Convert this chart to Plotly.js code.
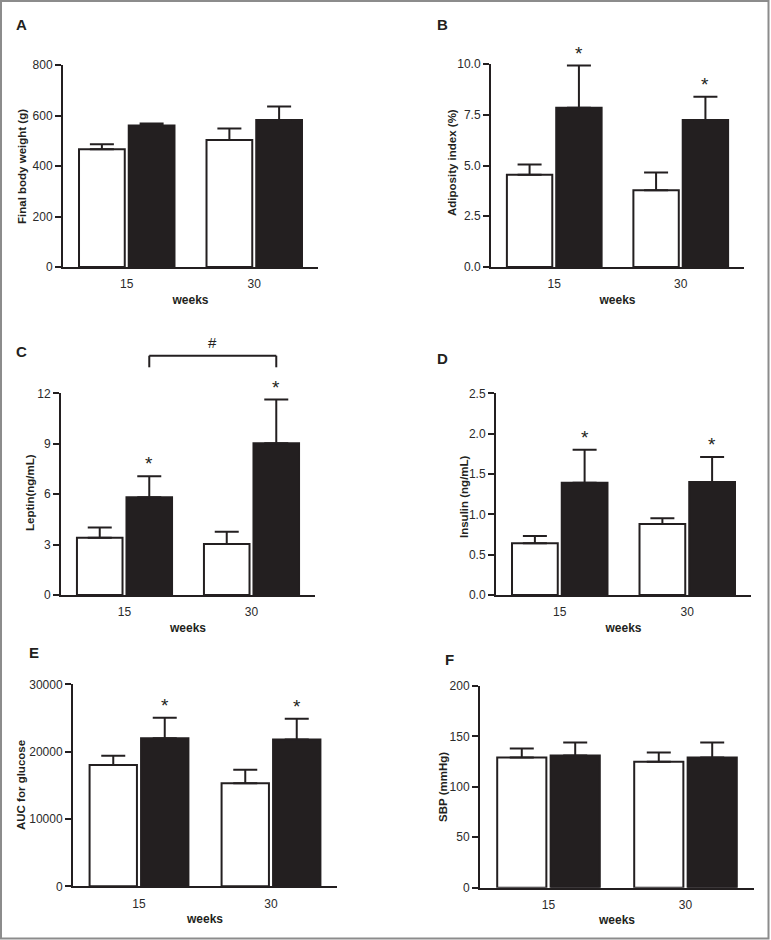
<!DOCTYPE html>
<html>
<head>
<meta charset="utf-8">
<script src="https://cdn.plot.ly/plotly-3.0.1.min.js"></script>
<style>
  html, body { margin: 0; padding: 0; background: #ffffff; }
  #chart { width: 771px; height: 940px; }
</style>
</head>
<body>
<div id="chart"></div>
<script>
// ---------------- data ----------------
const weeks = ['15', '30'];
const groupNames = ['Control', 'Obese'];

const bodyWeightCtrl = [466, 503];
const bodyWeightCtrlErr = [20, 46];
const bodyWeightObese = [560, 582];
const bodyWeightObeseErr = [8, 54];
const bodyWeightStars = ['', ''];

const adiposityCtrl = [4.55, 3.78];
const adiposityCtrlErr = [0.5, 0.87];
const adiposityObese = [7.85, 7.24];
const adiposityObeseErr = [2.07, 1.15];
const adiposityStars = ['*', '*'];

const leptinCtrl = [3.41, 3.03];
const leptinCtrlErr = [0.6, 0.74];
const leptinObese = [5.81, 9.03];
const leptinObeseErr = [1.25, 2.6];
const leptinStars = ['*', '*'];
const leptinBracketLabel = '#';

const insulinCtrl = [0.64, 0.88];
const insulinCtrlErr = [0.09, 0.07];
const insulinObese = [1.39, 1.40];
const insulinObeseErr = [0.41, 0.31];
const insulinStars = ['*', '*'];

const aucCtrl = [18000, 15300];
const aucCtrlErr = [1400, 2000];
const aucObese = [22000, 21800];
const aucObeseErr = [3050, 3100];
const aucStars = ['*', '*'];

const sbpCtrl = [129, 125];
const sbpCtrlErr = [9, 9];
const sbpObese = [131, 129];
const sbpObeseErr = [13, 15];
const sbpStars = ['', ''];

const xTitle = 'weeks';
const panelLetters = ['A', 'B', 'C', 'D', 'E', 'F'];
const yTitles = ['Final body weight (g)', 'Adiposity index (%)', 'Leptin(ng/mL)',
                 'Insulin (ng/mL)', 'AUC for glucose', 'SBP (mmHg)'];

// ---------------- layout helpers ----------------
const W = 771, H = 940;
const X = px => px / W;
const Y = py => 1 - py / H;

const INK = '#231f20';
const TICKC = '#2a2a2a';
const SANS = '"Liberation Sans", Arial, sans-serif';
const BARGAP = 0.22;
const BLACK_OFF = (1 - BARGAP) / 4;

const panels = [
  { ctrl: bodyWeightCtrl, ctrlErr: bodyWeightCtrlErr, ob: bodyWeightObese, obErr: bodyWeightObeseErr, stars: bodyWeightStars,
    dom: [63, 318, 65, 267], range: [0, 800], dtick: 200, fmt: 'd', yt: [22, 167], lab: [21, 25] },
  { ctrl: adiposityCtrl, ctrlErr: adiposityCtrlErr, ob: adiposityObese, obErr: adiposityObeseErr, stars: adiposityStars,
    dom: [491, 744, 64, 267], range: [0, 10], dtick: 2.5, fmt: '.1f', yt: [452, 163], lab: [443, 25] },
  { ctrl: leptinCtrl, ctrlErr: leptinCtrlErr, ob: leptinObese, obErr: leptinObeseErr, stars: leptinStars,
    dom: [61, 315, 393.3, 595], range: [0, 12], dtick: 3, fmt: 'd', yt: [30, 493], lab: [21, 351] },
  { ctrl: insulinCtrl, ctrlErr: insulinCtrlErr, ob: insulinObese, obErr: insulinObeseErr, stars: insulinStars,
    dom: [496, 751, 393.3, 595], range: [0, 2.5], dtick: 0.5, fmt: '.1f', yt: [464, 497], lab: [443, 358] },
  { ctrl: aucCtrl, ctrlErr: aucCtrlErr, ob: aucObese, obErr: aucObeseErr, stars: aucStars,
    dom: [73, 337, 684.3, 886.3], range: [0, 30000], dtick: 10000, fmt: 'd', yt: [21, 785], lab: [34, 652] },
  { ctrl: sbpCtrl, ctrlErr: sbpCtrlErr, ob: sbpObese, obErr: sbpObeseErr, stars: sbpStars,
    dom: [480, 754, 686, 887.7], range: [0, 200], dtick: 50, fmt: 'd', yt: [443, 787], lab: [449, 659] }
];

const traces = [];
const annotations = [];
const shapes = [];
const layout = {
  width: W, height: H,
  margin: { l: 0, r: 0, t: 0, b: 0, pad: 0 },
  paper_bgcolor: '#ffffff',
  plot_bgcolor: 'rgba(0,0,0,0)',
  showlegend: false,
  barmode: 'group',
  bargap: BARGAP,
  bargroupgap: 0.08,
  font: { family: SANS, color: TICKC, size: 12 }
};

panels.forEach((p, i) => {
  const n = i === 0 ? '' : String(i + 1);
  const xa = 'x' + n, ya = 'y' + n;
  const [x0, x1, yTop, yBot] = p.dom;

  traces.push({
    type: 'bar', name: groupNames[0], x: weeks, y: p.ctrl, xaxis: xa, yaxis: ya,
    marker: { color: '#ffffff', line: { color: INK, width: 2 } },
    error_y: { type: 'data', array: p.ctrlErr, arrayminus: [0, 0], symmetric: false,
               color: INK, thickness: 2, width: 12 },
    hoverinfo: 'skip'
  });
  traces.push({
    type: 'bar', name: groupNames[1], x: weeks, y: p.ob, xaxis: xa, yaxis: ya,
    marker: { color: INK, line: { color: INK, width: 2 } },
    error_y: { type: 'data', array: p.obErr, arrayminus: [0, 0], symmetric: false,
               color: INK, thickness: 2, width: 12 },
    hoverinfo: 'skip'
  });

  layout['xaxis' + n] = {
    domain: [X(x0), X(x1)], anchor: ya, type: 'category', range: [-0.5, 1.5],
    showline: true, linecolor: INK, linewidth: 2, ticks: '', showgrid: false, zeroline: false,
    tickfont: { family: SANS, size: 12, color: TICKC }, ticklabelstandoff: 5,
    title: { text: xTitle, font: { family: SANS, size: 12, weight: 'bold', color: INK }, standoff: 5 },
    fixedrange: true
  };
  layout['yaxis' + n] = {
    domain: [Y(yBot), Y(yTop)], anchor: xa, range: p.range, tick0: 0, dtick: p.dtick, tickformat: p.fmt,
    showline: true, linecolor: INK, linewidth: 2, ticks: 'outside', ticklen: 6, tickwidth: 2, tickcolor: INK,
    showgrid: false, zeroline: false, tickfont: { family: SANS, size: 12, color: TICKC },
    fixedrange: true
  };

  // y-axis title (placed as rotated text)
  annotations.push({
    xref: 'paper', yref: 'paper', x: X(p.yt[0]), y: Y(p.yt[1]), xanchor: 'center', yanchor: 'middle',
    text: yTitles[i], textangle: -90, showarrow: false,
    font: { family: SANS, size: 11.5, weight: 'bold', color: INK }
  });
  // panel letter
  annotations.push({
    xref: 'paper', yref: 'paper', x: X(p.lab[0]), y: Y(p.lab[1]), xanchor: 'center', yanchor: 'middle',
    text: panelLetters[i], showarrow: false,
    font: { family: SANS, size: 15, weight: 'bold', color: INK }
  });
  // significance stars above the black bars
  p.stars.forEach((s, k) => {
    if (!s) return;
    annotations.push({
      xref: xa, yref: ya, x: k + BLACK_OFF, y: p.ob[k] + p.obErr[k], xanchor: 'center', yanchor: 'bottom',
      yshift: 0, text: s, showarrow: false,
      font: { family: SANS, size: 19, color: INK }
    });
  });

  if (i === 2) {
    // bracket between the two black leptin bars
    const bTop = Y(355.7), bBot = Y(367.3);
    shapes.push({ type: 'line', xref: xa, yref: 'paper', x0: 0 + BLACK_OFF, x1: 1 + BLACK_OFF, y0: bTop, y1: bTop,
                  line: { color: INK, width: 2 } });
    shapes.push({ type: 'line', xref: xa, yref: 'paper', x0: 0 + BLACK_OFF, x1: 0 + BLACK_OFF, y0: bTop, y1: bBot,
                  line: { color: INK, width: 2 } });
    shapes.push({ type: 'line', xref: xa, yref: 'paper', x0: 1 + BLACK_OFF, x1: 1 + BLACK_OFF, y0: bTop, y1: bBot,
                  line: { color: INK, width: 2 } });
    annotations.push({
      xref: xa, yref: 'paper', x: 0.5 + BLACK_OFF, y: Y(342), xanchor: 'center', yanchor: 'middle',
      text: leptinBracketLabel, showarrow: false, font: { family: SANS, size: 15, color: INK }
    });
  }
});

// outer frame
shapes.push({ type: 'rect', xref: 'paper', yref: 'paper', x0: X(1), x1: X(768.5), y0: Y(1), y1: Y(938.5),
              line: { color: '#8c8c8c', width: 2 }, fillcolor: 'rgba(0,0,0,0)' });

layout.annotations = annotations;
layout.shapes = shapes;

Plotly.newPlot('chart', traces, layout, { staticPlot: true, displayModeBar: false });
</script>
</body>
</html>
